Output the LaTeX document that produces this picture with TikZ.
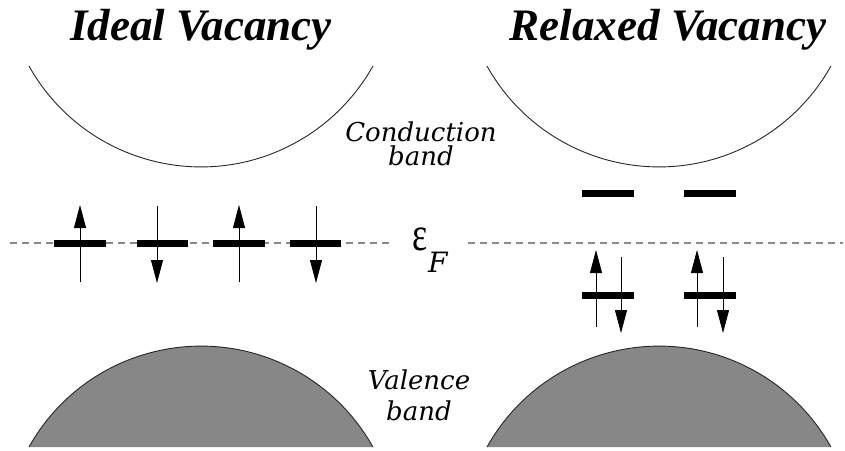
\documentclass[tikz,border=0pt]{standalone}
\usepackage{fontspec}
\setmainfont{Liberation Serif}
\newfontfamily\bandfont{DejaVu Serif}
\usetikzlibrary{arrows.meta}
\definecolor{vband}{HTML}{878787}
\definecolor{fermigray}{HTML}{8A8A8A}
\tikzset{
  bandedge/.style={line width=0.9pt, black!85},
  statebar/.style={line width=7pt},
  spin/.style={line width=0.8pt, -{Triangle[length=23pt,width=12pt]}},
  fermi/.style={fermigray, line width=1.1pt, dash pattern=on 7pt off 5pt},
  titletext/.style={anchor=base, font=\fontsize{45}{45}\selectfont\bfseries\itshape},
  bandtext/.style={anchor=base, align=center}
}
\begin{document}
\begin{tikzpicture}[x=1pt,y=-1pt]
\useasboundingbox (0,0) rectangle (845,450);

\def \bandrad {197}
\def \leftx {201}
\def \rightx {659}
\def \fermiy {243}

% titles
\draw node[titletext] (ideal) at (201,40) {Ideal Vacancy};
\draw node[titletext] (relaxed) at (668,40) {Relaxed Vacancy};

% conduction bands
\draw[bandedge] (\leftx-172,66) arc[start angle=150.8, end angle=29.2, radius=\bandrad];
\draw[bandedge] (\rightx-172,66) arc[start angle=150.8, end angle=29.2, radius=\bandrad];

% valence bands
\fill[vband] (\leftx-172,447) arc[start angle=209.2, end angle=330.8, radius=\bandrad] -- cycle;
\fill[vband] (\rightx-172,447) arc[start angle=209.2, end angle=330.8, radius=\bandrad] -- cycle;
\draw[bandedge] (\leftx-172,447) arc[start angle=209.2, end angle=330.8, radius=\bandrad];
\draw[bandedge] (\rightx-172,447) arc[start angle=209.2, end angle=330.8, radius=\bandrad];

\draw node[bandtext, font=\fontsize{26}{24}\selectfont\bandfont\itshape] (cond) at (421,165) {Conduction\\ band};
\draw node[bandtext, font=\fontsize{26}{31}\selectfont\bandfont\itshape] (val) at (419,420) {Valence\\ band};

% Fermi level
\draw[fermi] (10,\fermiy) -- (393,\fermiy);
\draw[fermi] (468,\fermiy) -- (843,\fermiy);
\draw node[anchor=base west, inner sep=0pt, font=\fontsize{48}{48}\selectfont] (eps) at (412,250) {\scalebox{0.75}[1]{ε}};
\draw node[anchor=base west, inner sep=0pt, font=\fontsize{28}{28}\selectfont\bandfont\itshape] (fsub) at (428,272) {F};

% ideal vacancy levels
\draw[statebar] (54,\fermiy) -- (106,\fermiy);
\draw[statebar] (137,\fermiy) -- (188,\fermiy);
\draw[statebar] (213,\fermiy) -- (265,\fermiy);
\draw[statebar] (290,\fermiy) -- (341,\fermiy);

\draw[spin] (80,282) -- (80,205);
\draw[spin] (157,206) -- (157,283);
\draw[spin] (239,282) -- (239,205);
\draw[spin] (316,206) -- (316,283);

% relaxed vacancy levels
\draw[statebar] (582,193) -- (634,193);
\draw[statebar] (684,193) -- (736,193);
\draw[statebar] (582,295) -- (634,295);
\draw[statebar] (684,295) -- (736,295);

\draw[spin] (596,327) -- (596,250);
\draw[spin] (621,257) -- (621,333);
\draw[spin] (697,327) -- (697,250);
\draw[spin] (723,257) -- (723,333);
\end{tikzpicture}
\end{document}
